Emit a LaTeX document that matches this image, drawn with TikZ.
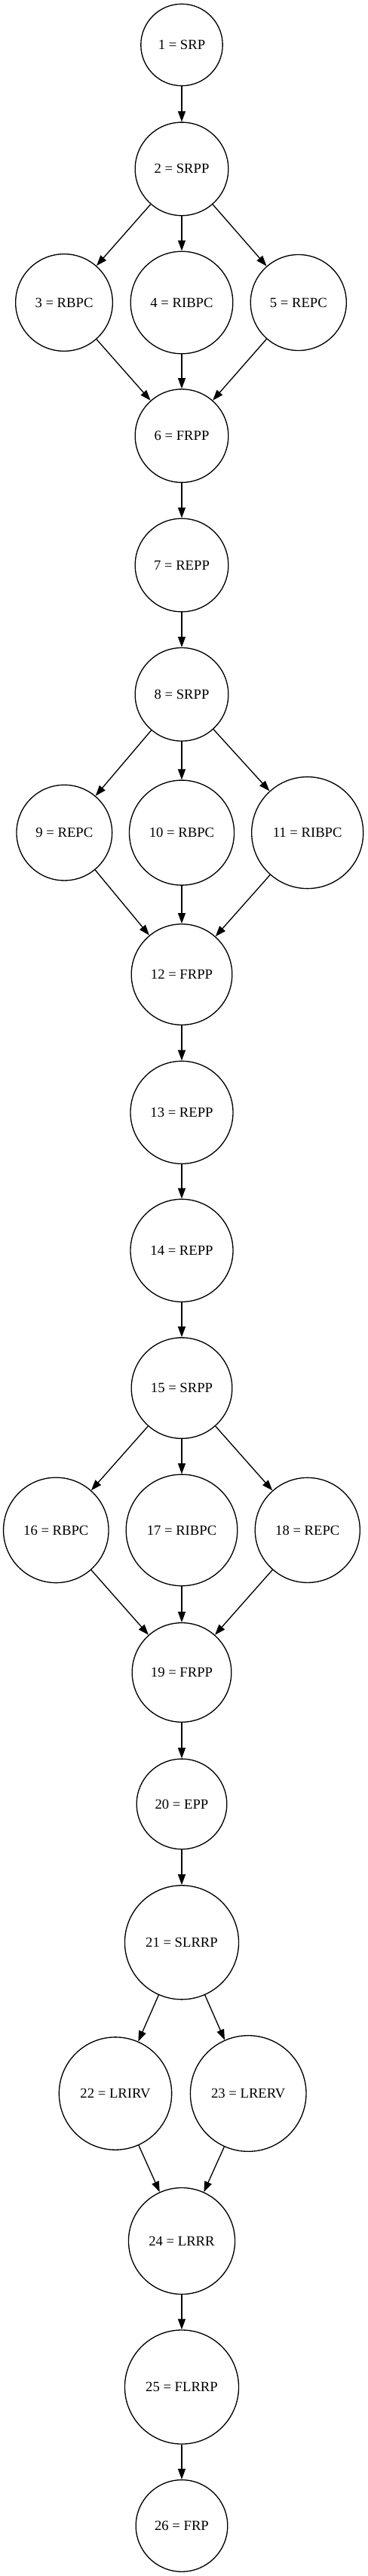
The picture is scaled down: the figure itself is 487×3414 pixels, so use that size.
\documentclass[tikz,border=0pt]{standalone}
\usepackage{fontspec}
\setmainfont{Liberation Serif}
\usetikzlibrary{shapes,arrows.meta}

\begin{document}
\begin{tikzpicture}
  [x=0.75pt,y=-0.75pt,
   stateN/.style={circle,draw,inner sep=0pt,line width=1pt,
                  font=\fontsize{14}{16}\selectfont},
   flowE/.style={-{Triangle[length=10.5pt,width=7.5pt]},line width=1pt}]

  \useasboundingbox[fill=white] (0,0) rectangle (487,3414);

  \node[stateN,minimum size=81.3pt]  (n1)  at (241,59.5)    {1 = SRP};
  \node[stateN,minimum size=92.7pt]  (n2)  at (241,223.9)   {2 = SRPP};
  \node[stateN,minimum size=96.5pt]  (n3)  at (85,401)      {3 = RBPC};
  \node[stateN,minimum size=101.7pt] (n4)  at (241,401)     {4 = RIBPC};
  \node[stateN,minimum size=95.3pt]  (n5)  at (395.8,401)   {5 = REPC};
  \node[stateN,minimum size=92.7pt]  (n6)  at (241,577.6)   {6 = FRPP};
  \node[stateN,minimum size=92.7pt]  (n7)  at (241,749)     {7 = REPP};
  \node[stateN,minimum size=92.7pt]  (n8)  at (241,920.3)   {8 = SRPP};
  \node[stateN,minimum size=95pt]    (n9)  at (85.3,1103.6) {9 = REPC};
  \node[stateN,minimum size=104.3pt] (n10) at (241,1103.6)  {10 = RBPC};
  \node[stateN,minimum size=111pt]   (n11) at (407.7,1103.6) {11 = RIBPC};
  \node[stateN,minimum size=100.2pt] (n12) at (241,1291.5)  {12 = FRPP};
  \node[stateN,minimum size=102pt]   (n13) at (241,1474.3)  {13 = REPP};
  \node[stateN,minimum size=102pt]   (n14) at (241,1657.3)  {14 = REPP};
  \node[stateN,minimum size=100.2pt] (n15) at (241,1839.6)  {15 = SRPP};
  \node[stateN,minimum size=104.6pt] (n16) at (74.3,2027.9) {16 = RBPC};
  \node[stateN,minimum size=110.7pt] (n17) at (241,2027.9)  {17 = RIBPC};
  \node[stateN,minimum size=104.3pt] (n18) at (407.8,2027.9) {18 = REPC};
  \node[stateN,minimum size=98.7pt]  (n19) at (241,2216.5)  {19 = FRPP};
  \node[stateN,minimum size=89.7pt]  (n20) at (241,2390.9)  {20 = EPP};
  \node[stateN,minimum size=113.3pt] (n21) at (241,2574.3)  {21 = SLRRP};
  \node[stateN,minimum size=112pt]   (n22) at (153,2774.5)  {22 = LRIRV};
  \node[stateN,minimum size=115.2pt] (n23) at (329.2,2774.5) {23 = LRERV};
  \node[stateN,minimum size=105.8pt] (n24) at (241,2970)    {24 = LRRR};
  \node[stateN,minimum size=113.3pt] (n25) at (241,3163.5)  {25 = FLRRP};
  \node[stateN,minimum size=91.2pt]  (n26) at (241,3347.4)  {26 = FRP};

  \draw [flowE] (n1) -- (n2);
  \draw [flowE] (n2) -- (n3);
  \draw [flowE] (n2) -- (n4);
  \draw [flowE] (n2) -- (n5);
  \draw [flowE] (n3) -- (n6);
  \draw [flowE] (n4) -- (n6);
  \draw [flowE] (n5) -- (n6);
  \draw [flowE] (n6) -- (n7);
  \draw [flowE] (n7) -- (n8);

  \draw [flowE] (n8) -- (n9);
  \draw [flowE] (n8) -- (n10);
  \draw [flowE] (n8) -- (n11);
  \draw [flowE] (n9) -- (n12);
  \draw [flowE] (n10) -- (n12);
  \draw [flowE] (n11) -- (n12);
  \draw [flowE] (n12) -- (n13);
  \draw [flowE] (n13) -- (n14);
  \draw [flowE] (n14) -- (n15);

  \draw [flowE] (n15) -- (n16);
  \draw [flowE] (n15) -- (n17);
  \draw [flowE] (n15) -- (n18);
  \draw [flowE] (n16) -- (n19);
  \draw [flowE] (n17) -- (n19);
  \draw [flowE] (n18) -- (n19);
  \draw [flowE] (n19) -- (n20);
  \draw [flowE] (n20) -- (n21);

  \draw [flowE] (n21) -- (n22);
  \draw [flowE] (n21) -- (n23);
  \draw [flowE] (n22) -- (n24);
  \draw [flowE] (n23) -- (n24);
  \draw [flowE] (n24) -- (n25);
  \draw [flowE] (n25) -- (n26);

\end{tikzpicture}
\end{document}
